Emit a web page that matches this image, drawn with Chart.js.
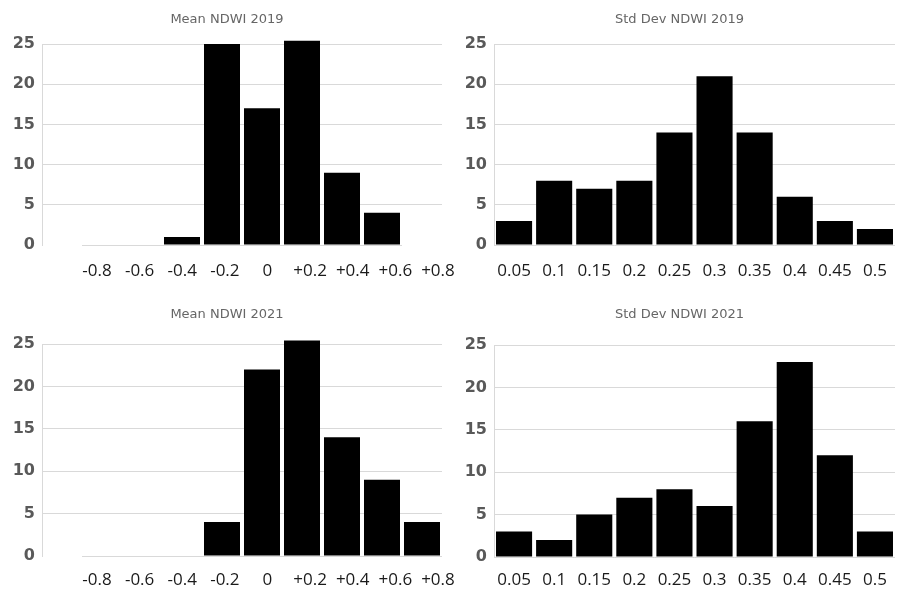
<!DOCTYPE html>
<html>
<head>
<meta charset="utf-8">
<script src="https://cdn.jsdelivr.net/npm/chart.js@4.4.1/dist/chart.umd.min.js"></script>
<style>
  body { margin: 0; background: #fff; }
  #wrap { position: relative; width: 905px; height: 590px; overflow: hidden; }
  canvas { position: absolute; }
</style>
</head>
<body>
<div id="wrap">
  <canvas id="c1" width="470" height="295" style="left:0;top:0"></canvas>
  <canvas id="c2" width="453" height="295" style="left:452px;top:0"></canvas>
  <canvas id="c3" width="470" height="295" style="left:0;top:295px"></canvas>
  <canvas id="c4" width="453" height="295" style="left:452px;top:295px"></canvas>
</div>
<script>
// bins of the histograms (first empty slot keeps the gap next to the y axis)
var meanBins = ['', '-0.8', '-0.6', '-0.4', '-0.2', '0', '+0.2', '+0.4', '+0.6', '+0.8'];
var stdBins = ['0.05', '0.1', '0.15', '0.2', '0.25', '0.3', '0.35', '0.4', '0.45', '0.5'];

// tick values / labels printed under the mean charts
var meanTickVals = [-0.8, -0.6, -0.4, -0.2, 0, 0.2, 0.4, 0.6, 0.8];
var meanTickLabels = ['-0.8', '-0.6', '-0.4', '-0.2', '0', '+0.2', '+0.4', '+0.6', '+0.8'];

// counts
var mean2019 = [null, 0, 0, 1, 25, 17, 25.4, 9, 4, null];
var std2019 = [3, 8, 7, 8, 14, 21, 14, 6, 3, 2];
var mean2021 = [null, 0, 0, 0, 4, 22, 25.4, 14, 9, 4];
var std2021 = [3, 2, 5, 7, 8, 6, 16, 23, 12, 3];

var yTicks = [0, 5, 10, 15, 20, 25];

var gridCol = '#d9d9d9';
var xFont = { family: 'Open Sans', size: 17 };

// light line under the bars, only where the bins have a value
var baseline = {
  id: 'baseline',
  beforeDatasetsDraw: function(chart) {
    var xs = chart.scales.x, ys = chart.scales.y, ctx = chart.ctx;
    var y0 = Math.round(ys.getPixelForValue(0)) + 0.5;
    var half = xs.width / chart.data.labels.length / 2;
    ctx.save();
    ctx.strokeStyle = gridCol;
    ctx.lineWidth = 1;
    chart.data.datasets[0].data.forEach(function(v, i) {
      if (v === null) return;
      var cx = xs.getPixelForValue(i);
      ctx.beginPath();
      ctx.moveTo(cx - half, y0);
      ctx.lineTo(cx + half, y0);
      ctx.stroke();
    });
    ctx.restore();
  }
};

function hist(id, title, labels, values, o) {
  var scales = {
    x: {
      grid: { display: false, drawTicks: false },
      border: { display: false },
      ticks: {
        display: !o.meanAxis,
        color: '#1a1a1a',
        padding: o.xPad,
        maxRotation: 0,
        autoSkip: false,
        font: xFont
      },
      afterFit: function(s) { s.height = o.meanAxis ? 0 : o.xH; }
    },
    y: {
      min: 0,
      max: 25,
      afterBuildTicks: function(s) { s.ticks = yTicks.map(function(v) { return { value: v }; }); },
      grid: {
        drawTicks: false,
        color: function(c) { return c.tick && c.tick.value === 0 ? 'rgba(0,0,0,0)' : gridCol; }
      },
      border: { display: true, color: gridCol },
      ticks: {
        color: '#595959',
        padding: 7,
        font: { family: 'DejaVu Sans', size: 16, weight: 'bold' }
      },
      afterFit: function(s) { s.width = 30; }
    }
  };
  if (o.meanAxis) {
    // label axis for the mean charts: its labels sit a bit wider apart than the bins
    scales.xl = {
      type: 'linear',
      position: 'bottom',
      offset: false,
      bounds: 'data',
      grace: 0,
      min: -1.058,
      max: 0.819,
      afterDataLimits: function(s) { s.min = -1.058; s.max = 0.819; },
      afterBuildTicks: function(s) {
        s.min = -1.058; s.max = 0.819;
        s.ticks = meanTickVals.map(function(v) { return { value: v }; });
      },
      grid: { display: false, drawTicks: false },
      border: { display: false },
      ticks: {
        color: '#1a1a1a',
        padding: o.xPad,
        maxRotation: 0,
        autoSkip: false,
        font: xFont,
        callback: function(v, i) { return meanTickLabels[i]; }
      },
      afterFit: function(s) {
        s.height = o.xH;
        s.paddingLeft = 0;
        s.paddingRight = 0;
      }
    };
  }
  return new Chart(document.getElementById(id), {
    type: 'bar',
    data: {
      labels: labels,
      datasets: [{
        data: values,
        backgroundColor: '#000',
        barPercentage: 0.9,
        categoryPercentage: 1,
        clip: false
      }]
    },
    plugins: [baseline],
    options: {
      responsive: false,
      animation: false,
      layout: { padding: { left: 12, right: o.padR, top: 0, bottom: 0 } },
      plugins: {
        legend: { display: false },
        tooltip: { enabled: false },
        title: {
          display: true,
          text: title,
          color: '#666666',
          font: { family: 'DejaVu Sans', size: 13, weight: 'normal' },
          padding: { top: 12, bottom: o.titleBottom }
        }
      },
      scales: scales
    }
  });
}

hist('c1', 'Mean NDWI 2019', meanBins, mean2019, { meanAxis: true, padR: 28, titleBottom: 16.4, xH: 50, xPad: 16 });
hist('c2', 'Std Dev NDWI 2019', stdBins, std2019, { meanAxis: false, padR: 10, titleBottom: 16.4, xH: 50, xPad: 16 });
hist('c3', 'Mean NDWI 2021', meanBins, mean2021, { meanAxis: true, padR: 28, titleBottom: 21.4, xH: 34, xPad: 14 });
hist('c4', 'Std Dev NDWI 2021', stdBins, std2021, { meanAxis: false, padR: 10, titleBottom: 22.4, xH: 33, xPad: 13 });
</script>
</body>
</html>
